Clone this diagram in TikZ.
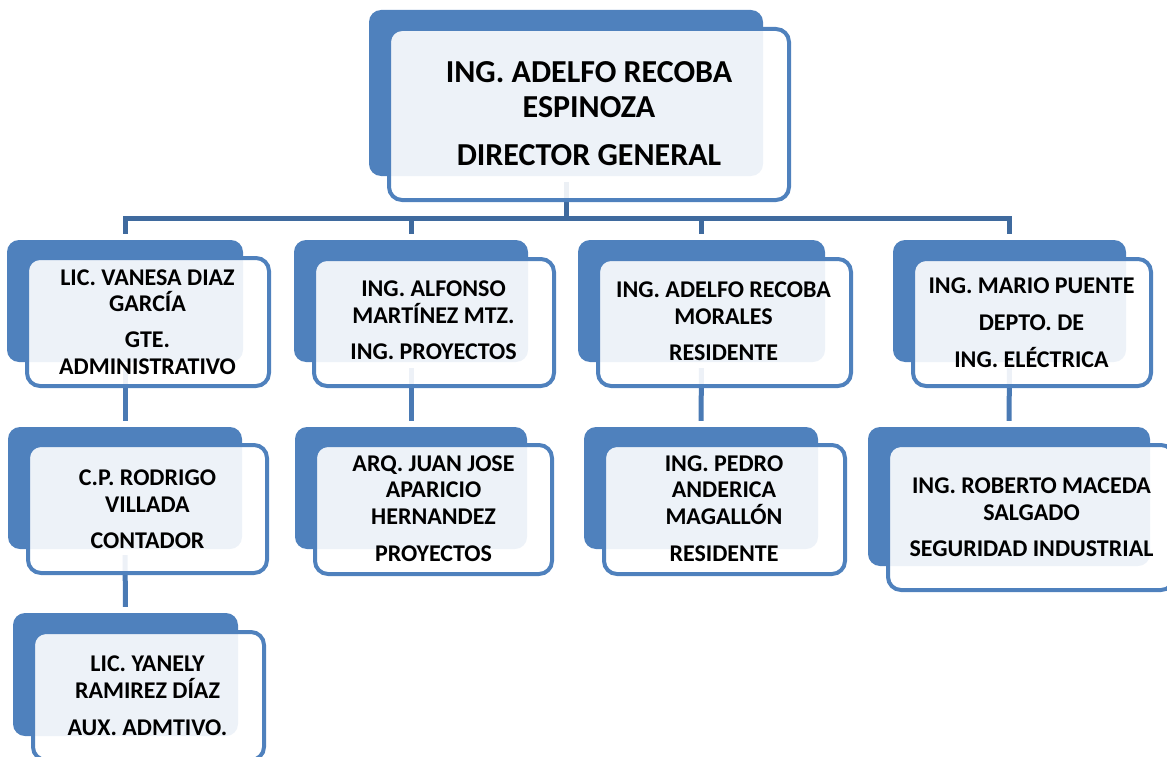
\documentclass[tikz,border=0pt]{standalone}
\usepackage{fontspec}
\setmainfont{Carlito}
\definecolor{boxblue}{HTML}{4F81BD}
\definecolor{linedark}{HTML}{3F6A9E}
\definecolor{linemid}{HTML}{4A7AB4}
\tikzset{
  backbox/.style={draw=none, fill=boxblue, rounded corners=12pt, inner sep=0pt},
  frontbox/.style={draw=boxblue, line width=4pt, fill=white, fill opacity=0.9, rounded corners=13pt, inner sep=0pt},
  txt/.style={font=\bfseries\fontsize{24}{26.5}\selectfont, align=center, inner sep=0pt, anchor=base, text=black},
  toptxt/.style={font=\bfseries\fontsize{32}{35}\selectfont, align=center, inner sep=0pt, anchor=base, text=black},
  conn/.style={line width=5pt, shorten <=6pt, shorten >=6pt},
  barconn/.style={draw=linedark, line width=5pt, shorten >=6pt},
}
\begin{document}
\begin{tikzpicture}[x=1pt,y=-1pt]
\useasboundingbox (0,0) rectangle (1167,757);
% back boxes
\node[backbox, minimum width=394pt, minimum height=166pt] (b0) at (566,93) {};
\node[backbox, minimum width=236pt, minimum height=122pt] (b1) at (125,301) {};
\node[backbox, minimum width=234pt, minimum height=122pt] (b2) at (411,301) {};
\node[backbox, minimum width=247pt, minimum height=122pt] (b3) at (701.5,301) {};
\node[backbox, minimum width=233pt, minimum height=122pt] (b4) at (1009.5,301) {};
\node[backbox, minimum width=234pt, minimum height=122pt] (c1) at (125,488) {};
\node[backbox, minimum width=232pt, minimum height=122pt] (c2) at (411,488) {};
\node[backbox, minimum width=234pt, minimum height=122pt] (c3) at (701,488) {};
\node[backbox, minimum width=282pt, minimum height=139pt] (c4) at (1009,496.5) {};
\node[backbox, minimum width=225pt, minimum height=123pt] (d1) at (125.5,674.5) {};
% connectors
\coordinate (bar) at (566,218.5);
\draw[draw=linedark, line width=5pt, shorten <=6pt] (b0.south) -- (bar);
\draw[barconn] (bar) -| (b1.north);
\draw[barconn] (bar) -| (b2.north);
\draw[barconn] (bar) -| (b3.north);
\draw[barconn] (bar) -| (b4.north);
\draw[conn, draw=linemid] (b1.south) -- (c1.north);
\draw[conn, draw=linemid] (c1.south) -- (d1.north);
\draw[conn, draw=linemid] (b2.south) -- (c2.north);
\draw[conn, draw=linemid] (b3.south) -- (c3.north);
\draw[conn, draw=linemid] (b4.south) -- (c4.north);
% front boxes
\node[frontbox, minimum width=400pt, minimum height=171pt] (f0) at (589,114.5) {};
\node[frontbox, minimum width=242pt, minimum height=128pt] (f1) at (148,322) {};
\node[frontbox, minimum width=240pt, minimum height=127pt] (f2) at (434,322.5) {};
\node[frontbox, minimum width=253pt, minimum height=127pt] (f3) at (724.5,322.5) {};
\node[frontbox, minimum width=238pt, minimum height=127pt] (f4) at (1032,322.5) {};
\node[frontbox, minimum width=239pt, minimum height=128pt] (g1) at (147.5,509) {};
\node[frontbox, minimum width=237pt, minimum height=129pt] (g2) at (433.5,509.5) {};
\node[frontbox, minimum width=241pt, minimum height=129pt] (g3) at (724.5,509.5) {};
\node[frontbox, minimum width=286pt, minimum height=145pt] (g4) at (1031,517.5) {};
\node[frontbox, minimum width=231pt, minimum height=128pt] (h1) at (148.5,696) {};
% texts (anchored at the baseline of the last line)
\node[toptxt] (t0) at (589,165) {ING. ADELFO RECOBA\\ESPINOZA\\[13pt]DIRECTOR GENERAL};
\node[txt] (t1) at (147.5,374) {LIC. VANESA DIAZ\\GARCÍA\\[9.5pt]GTE.\\ADMINISTRATIVO};
\node[txt] (t2) at (433.5,359) {ING. ALFONSO\\MARTÍNEZ MTZ.\\[9.5pt]ING. PROYECTOS};
\node[txt] (t3) at (723.5,360) {ING. ADELFO RECOBA\\MORALES\\[9.5pt]RESIDENTE};
\node[txt] (t4) at (1031.5,367) {ING. MARIO PUENTE\\[10.5pt]DEPTO. DE\\[10.5pt]ING. ELÉCTRICA};
\node[txt] (u1) at (147.5,548) {C.P. RODRIGO\\VILLADA\\[9.5pt]CONTADOR};
\node[txt] (u2) at (433.5,561) {ARQ. JUAN JOSE\\APARICIO\\HERNANDEZ\\[10.5pt]PROYECTOS};
\node[txt] (u3) at (724,561) {ING. PEDRO\\ANDERICA\\MAGALLÓN\\[10.5pt]RESIDENTE};
\node[txt] (u4) at (1031.5,556) {ING. ROBERTO MACEDA\\SALGADO\\[9.5pt]SEGURIDAD INDUSTRIAL};
\node[txt] (v1) at (147.5,735) {LIC. YANELY\\RAMIREZ DÍAZ\\[10.5pt]AUX. ADMTIVO.};
\end{tikzpicture}
\end{document}
